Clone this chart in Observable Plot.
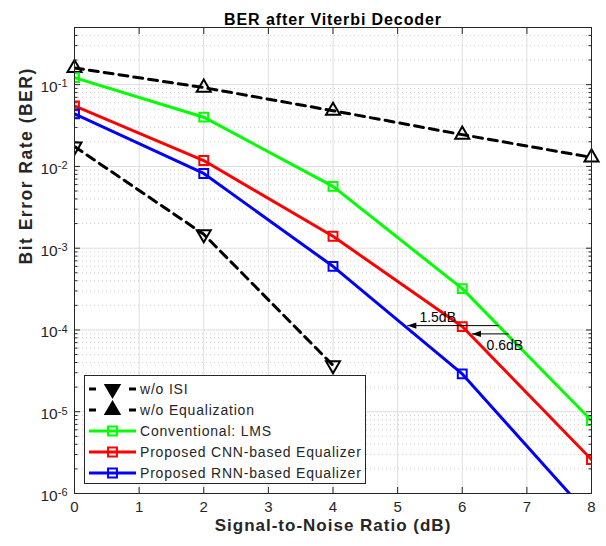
<!DOCTYPE html>
<html><head><meta charset="utf-8">
<script src="https://cdn.jsdelivr.net/npm/d3@7"></script>
<script src="https://cdn.jsdelivr.net/npm/@observablehq/plot@0.6"></script>
<style>
body{margin:0;background:#fff}
#chart{width:606px;height:546px}
</style>
</head><body><div id="chart"></div>
<script>
// ---- data ----
const snr = [0, 2, 4, 6, 8];
const snrNoISI = [0, 2, 4];
const berNoISI = [0.0175, 0.00148, 3.7e-5];
const berNoEq = [0.16, 0.092, 0.048, 0.0245, 0.0129];
const berLMS = [0.122, 0.040, 0.0057, 3.2e-4, 7.8e-6];
const berCNN = [0.055, 0.0118, 0.0014, 1.1e-4, 2.6e-6];
const berRNN = [0.044, 0.0082, 6.0e-4, 2.9e-5, 5.0e-7];
const seriesNames = ["w/o ISI", "w/o Equalization", "Conventional: LMS", "Proposed CNN-based Equalizer", "Proposed RNN-based Equalizer"];
const seriesColors = ["#000000", "#000000", "#00ff00", "#ff0000", "#0000ff"];
const xTicks = [0, 1, 2, 3, 4, 5, 6, 7, 8];
const yMajor = [1e-6, 1e-5, 1e-4, 1e-3, 1e-2, 1e-1];
const arrowX1 = [6.56, 6.72];
const arrowX2 = [5.15, 6.15];
const arrowY = [1.13e-4, 8.95e-5];
const arrowLabels = ["1.5dB", "0.6dB"];
const arrowLabelX = [5.62, 6.66];
const arrowLabelY = [1.42e-4, 6.45e-5];
const titleText = "BER after Viterbi Decoder";
const xLabel = "Signal-to-Noise Ratio (dB)";
const yLabel = "Bit Error Rate (BER)";

// ---- derived tables ----
const yMinor = [];
for (const d of yMajor) for (let k = 2; k <= 9; k++) { const v = k * d; if (v <= 0.5) yMinor.push(v); }
const rows = (xs, ys, name) => xs.map((x, i) => ({snr: x, ber: ys[i], series: name}));
const dNoISI = rows(snrNoISI, berNoISI, seriesNames[0]);
const dNoEq = rows(snr, berNoEq, seriesNames[1]);
const dLMS = rows(snr, berLMS, seriesNames[2]);
const dCNN = rows(snr, berCNN, seriesNames[3]);
const dRNN = rows(snr, berRNN, seriesNames[4]);
const arrows = arrowY.map((y, i) => ({x1: arrowX1[i], x2: arrowX2[i], y, label: arrowLabels[i], lx: arrowLabelX[i], ly: arrowLabelY[i]}));

const FONT = "'Liberation Sans', Arial, Helvetica, sans-serif";
const INK = "#262626";
const arrowHead = {draw(ctx) { ctx.moveTo(0, 0); ctx.lineTo(9, -3.2); ctx.lineTo(9, 3.2); ctx.closePath(); }};

const dashed = {strokeWidth: 3, strokeDasharray: "9,6", clip: true};
const solid = {strokeWidth: 3, clip: true};

const svg = Plot.plot({
  width: 606, height: 546,
  marginTop: 27, marginRight: 15, marginBottom: 53, marginLeft: 74,
  style: {fontFamily: FONT, fontSize: "15px", color: INK, background: "#fff", overflow: "visible"},
  x: {domain: [0, 8]},
  y: {type: "log", domain: [1e-6, 0.5]},
  marks: [
    Plot.ruleX(xTicks.slice(1, -1), {stroke: "#dedede", strokeWidth: 1}),
    Plot.ruleY(yMinor, {stroke: "#cfcfcf", strokeWidth: 1, strokeDasharray: "1,3"}),
    Plot.ruleY(yMajor.slice(1), {stroke: "#dedede", strokeWidth: 1}),
    // lines
    Plot.line(dNoISI, {x: "snr", y: "ber", stroke: seriesColors[0], ...dashed}),
    Plot.line(dNoEq, {x: "snr", y: "ber", stroke: seriesColors[1], ...dashed}),
    Plot.line(dLMS, {x: "snr", y: "ber", stroke: seriesColors[2], ...solid}),
    Plot.line(dCNN, {x: "snr", y: "ber", stroke: seriesColors[3], ...solid}),
    Plot.line(dRNN, {x: "snr", y: "ber", stroke: seriesColors[4], ...solid}),
    // markers
    Plot.dot(dNoISI, {x: "snr", y: "ber", symbol: "triangle", rotate: 180, r: 5.2, stroke: seriesColors[0], strokeWidth: 2, fill: "none", clip: true}),
    Plot.dot(dNoEq, {x: "snr", y: "ber", symbol: "triangle", r: 5.2, stroke: seriesColors[1], strokeWidth: 2, fill: "none"}),
    Plot.dot(dLMS, {x: "snr", y: "ber", symbol: "square", r: 5, stroke: seriesColors[2], strokeWidth: 2, fill: "none", clip: true}),
    Plot.dot(dCNN, {x: "snr", y: "ber", symbol: "square", r: 5, stroke: seriesColors[3], strokeWidth: 2, fill: "none", clip: true}),
    Plot.dot(dRNN, {x: "snr", y: "ber", symbol: "square", r: 5, stroke: seriesColors[4], strokeWidth: 2, fill: "none", clip: true}),
    // annotations
    Plot.link(arrows, {x1: "x1", x2: "x2", y1: "y", y2: "y", stroke: "#000", strokeWidth: 1}),
    Plot.dot(arrows, {x: "x2", y: "y", symbol: arrowHead, fill: "#000", stroke: "none"}),
    Plot.text(arrows, {x: "lx", y: "ly", text: "label", fontSize: 14, fill: "#000"}),
    // frame & ticks (inward)
    Plot.frame({stroke: INK, strokeWidth: 1}),
    Plot.axisX(xTicks, {anchor: "bottom", tickSize: -6, fill: "none", stroke: INK, label: null}),
    Plot.axisX(xTicks, {anchor: "top", tickSize: -6, fill: "none", stroke: INK, label: null}),
    Plot.axisY(yMajor, {anchor: "left", tickSize: -6, fill: "none", stroke: INK, label: null}),
    Plot.axisY(yMajor, {anchor: "right", tickSize: -6, fill: "none", stroke: INK, label: null}),
    Plot.axisY(yMinor, {anchor: "left", tickSize: -3.5, fill: "none", stroke: INK, label: null}),
    Plot.axisY(yMinor, {anchor: "right", tickSize: -3.5, fill: "none", stroke: INK, label: null}),
    // tick labels
    Plot.text(xTicks, {x: d => d, frameAnchor: "bottom", dy: 18.5, text: d => String(d), fontSize: 15, fill: INK}),
    Plot.text(yMajor, {y: d => d, frameAnchor: "left", dx: -7, dy: 2.5, textAnchor: "end", text: d => "10^" + Math.round(Math.log10(d)), fontSize: 15.5, fill: INK}),
    // title & axis labels
    Plot.text([titleText], {frameAnchor: "top", dy: -14, text: d => d, fontSize: 16, fontWeight: "bold", fill: "#000"}),
    Plot.text([xLabel], {frameAnchor: "bottom", dy: 37, text: d => d, fontSize: 17, fontWeight: "bold", fill: INK}),
    Plot.text([yLabel], {frameAnchor: "left", dx: -48, dy: 4, rotate: -90, text: d => d, fontSize: 17.5, fontWeight: "bold", fill: INK})
  ]
});

// superscript exponents on y tick labels; letter spacing on wide labels
d3.select(svg).selectAll("text").each(function () {
  const t = this.textContent;
  const m = /^10\^(.+)$/.exec(t);
  if (m) {
    const s = d3.select(this);
    s.text(null);
    s.append("tspan").text("10");
    s.append("tspan").attr("dy", "-0.42em").attr("font-size", "11px").text(m[1]);
  } else if (t === titleText) {
    this.setAttribute("letter-spacing", "0.9");
  } else if (t === xLabel) {
    this.setAttribute("letter-spacing", "1");
  } else if (t === yLabel) {
    this.setAttribute("letter-spacing", "1.5");
  }
});

// legend (inside the axes, lower-left)
const lg = d3.select(svg).append("g").attr("font-family", FONT).attr("font-size", 14).attr("text-anchor", "start");
lg.append("rect").attr("x", 84.5).attr("y", 375.5).attr("width", 281).attr("height", 108)
  .attr("fill", "#fff").attr("stroke", INK).attr("stroke-width", 1);
const legendSymbols = [
  {type: d3.symbolTriangle, rot: 180, dash: "7,33,7"},
  {type: d3.symbolTriangle, rot: 0, dash: "7,33,7"},
  {type: d3.symbolSquare, rot: 0, dash: null},
  {type: d3.symbolSquare, rot: 0, dash: null},
  {type: d3.symbolSquare, rot: 0, dash: null}
];
seriesNames.forEach((name, i) => {
  const y = 389 + i * 21;
  const s = legendSymbols[i];
  const ln = lg.append("line").attr("x1", 89).attr("x2", 136).attr("y1", y).attr("y2", y)
    .attr("stroke", seriesColors[i]).attr("stroke-width", 3);
  if (s.dash) ln.attr("stroke-dasharray", s.dash);
  const size = Math.PI * (s.type === d3.symbolSquare ? 25 : 27);
  lg.append("path").attr("d", d3.symbol(s.type, size)())
    .attr("transform", `translate(112.5,${y}) rotate(${s.rot})`)
    .attr("fill", s.type === d3.symbolSquare ? "none" : "#000")
    .attr("stroke", seriesColors[i]).attr("stroke-width", 2);
  lg.append("text").attr("x", 140).attr("y", y).attr("dy", "0.36em").attr("fill", INK)
    .attr("letter-spacing", "0.8").text(name);
});

document.getElementById("chart").appendChild(svg);
</script>
</body></html>
